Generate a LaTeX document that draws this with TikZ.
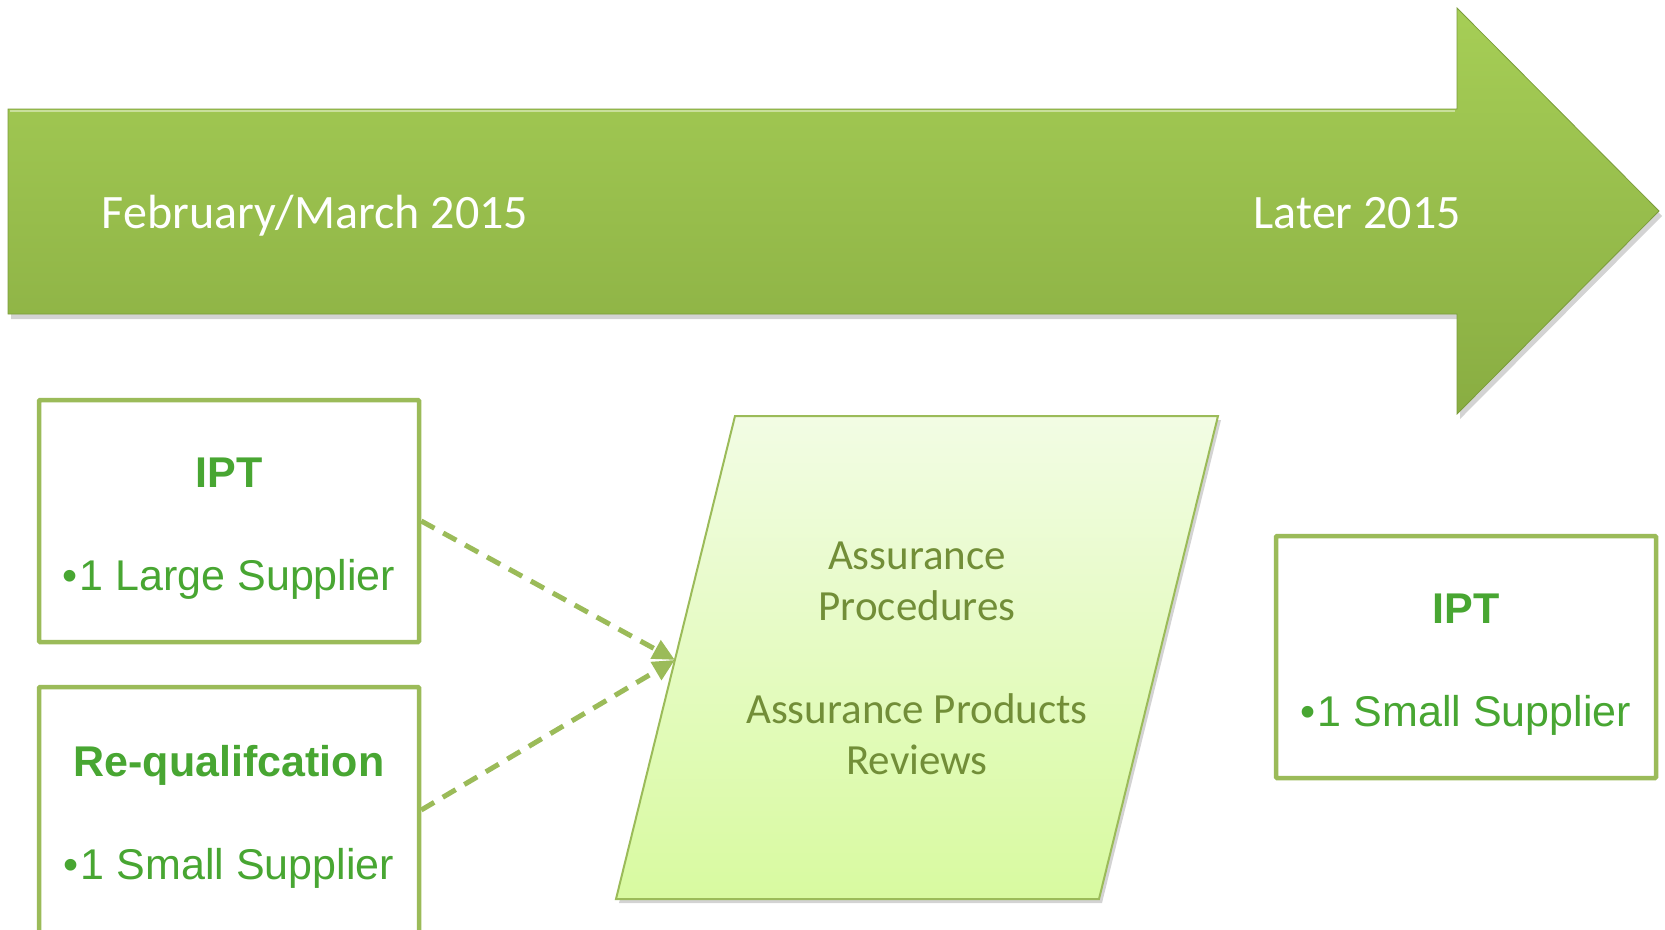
\documentclass[tikz,border=0pt]{standalone}
\usepackage{fontspec}
\setmainfont{Carlito}
\newfontfamily\arialf{Liberation Sans}
\usetikzlibrary{arrows.meta,shadows,calc}
\definecolor{boxgreen}{RGB}{155,187,89}
\definecolor{txtgreen}{RGB}{72,166,50}
\definecolor{pgtext}{RGB}{114,142,56}
\definecolor{arrtop}{RGB}{166,206,86}
\definecolor{arrbot}{RGB}{137,173,66}
\definecolor{pgtop}{RGB}{242,252,228}
\definecolor{pgbot}{RGB}{216,250,160}
\tikzset{
  infobox/.style={draw=boxgreen, line width=4.5pt, rounded corners=1pt, fill=white,
    minimum width=380pt, minimum height=242pt, align=center, text=txtgreen,
    font=\arialf\fontsize{43}{52}\selectfont, inner sep=0pt},
  dasharrow/.style={draw=boxgreen, line width=5pt, dash pattern=on 15pt off 10pt,
    -{Triangle[length=22pt,width=20pt]}},
  pgshape/.style={draw=boxgreen, line width=2pt, top color=pgtop, bottom color=pgbot,
    drop shadow={opacity=0.35, shadow xshift=3pt, shadow yshift=-4pt}},
  bigarrow/.style={top color=arrtop, bottom color=arrbot, draw=arrbot!90!black, line width=0.8pt,
    drop shadow={opacity=0.35, shadow xshift=3pt, shadow yshift=-5pt}},
  arrtext/.style={text=white, font=\fontsize{48}{56}\selectfont, inner sep=0pt},
  pgtxt/.style={text=pgtext, align=center, font=\fontsize{43}{51}\selectfont, inner sep=0pt}
}
\newcommand{\topstrut}{\rule{0pt}{44pt}}
\begin{document}
\begin{tikzpicture}[x=1pt,y=-1pt]
\useasboundingbox (0,0) rectangle (1665,929);
% timeline arrow
\path[bigarrow] (8,109) -- (1457,109) -- (1457,8) -- (1659,211) -- (1457,414) -- (1457,314) -- (8,314) -- cycle;
\draw[white!60!arrtop, line width=2pt, opacity=0.7] (10,111) -- (1455,111);
\node[arrtext, anchor=base] (feb) at (315,228) {February/March 2015};
\node[arrtext, anchor=base east] (later) at (1461,228) {Later 2015};
% parallelogram
\path[pgshape] (735,416) coordinate (pgTL) -- (1218,416) coordinate (pgTR)
  -- (1099,899) coordinate (pgBR) -- (616,899) coordinate (pgBL) -- cycle;
\coordinate (pgin) at ($(pgTL)!0.505!(pgBL)$);
\node[pgtxt] (pgt) at (917,658) {Assurance\\Procedures\\[52pt]Assurance Products\\Reviews};
% boxes
\node[infobox] (ipt1) at (229,521) {\topstrut{\bfseries IPT}\\[51pt]\textbullet\kern2pt1 Large Supplier};
\node[infobox, minimum height=246pt] (req) at (229,810) {\topstrut{\bfseries Re-qualifcation}\\[51pt]\textbullet\kern2pt1 Small Supplier};
\node[infobox] (ipt2) at (1466,657) {\topstrut{\bfseries IPT}\\[51pt]\textbullet\kern2pt1 Small Supplier};
% connectors
\draw[dasharrow] (ipt1.east) -- (pgin);
\draw[dasharrow] (req.east) -- (pgin);
\end{tikzpicture}
\end{document}
